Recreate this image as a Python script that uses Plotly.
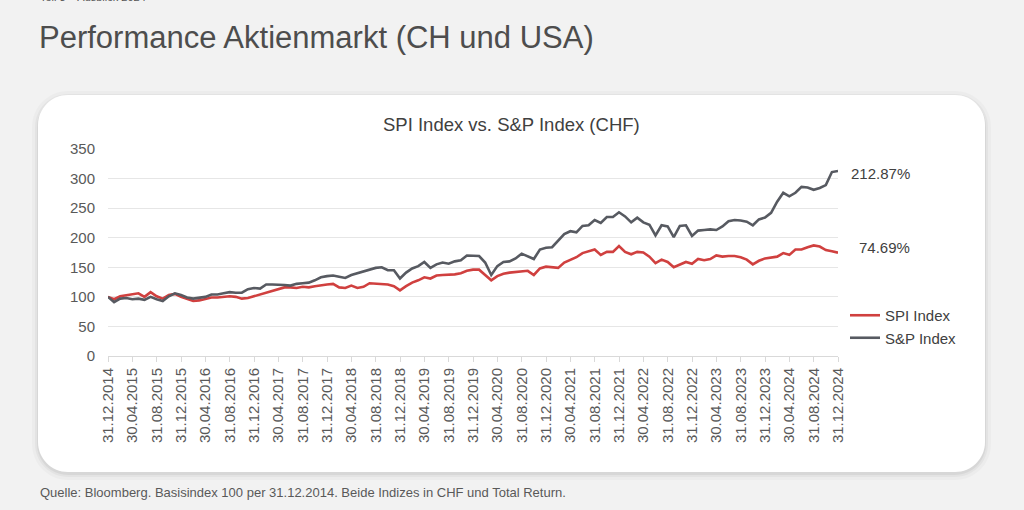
import pandas as pd
import plotly.graph_objects as go

# ---------------- data ----------------
dates = [d.strftime("%d.%m.%Y") for d in pd.date_range("2014-12-31", periods=121, freq="ME")]

spi_index = [
    100, 96, 101, 103, 104.5, 106, 100, 108, 101, 97, 103, 105,
    100, 97, 93, 94, 97, 99, 99, 100, 101, 100, 97, 98,
    101, 103, 106, 110, 113, 116, 116, 115, 117, 116, 118, 120,
    121, 122, 116, 115, 119, 115, 117, 123, 122, 122, 121, 118,
    111, 118, 124, 128, 133, 131, 136, 137, 137, 138, 140, 144,
    146, 146, 137, 128, 135, 139, 141, 142, 144, 144, 137, 148,
    151, 150, 149, 158, 162, 167, 174, 177, 180, 171, 176, 176,
    186, 176, 172, 176, 175, 168, 157, 163, 159, 150, 155, 159,
    156, 164, 162, 164, 170, 168, 169, 169, 167, 163, 155, 161,
    165, 167, 168, 174, 171, 180, 180, 184, 187, 185, 179, 177,
    174.69,
]

sp_index = [
    100, 91, 97, 98, 96, 97, 95, 100, 96, 93, 101, 106,
    103, 99, 97, 98, 100, 104, 104, 106, 108, 107, 107, 113,
    115, 114, 121, 121, 121, 120, 119, 122, 123, 124, 128, 133,
    135, 136, 134, 132, 137, 140, 144, 147, 149, 150, 145, 145,
    131, 141, 148, 152, 159, 149, 155, 158, 156, 160, 162, 170,
    170, 169, 158, 137, 152, 159, 160, 165, 173, 168, 164, 180,
    183, 184, 195, 206, 211, 209, 220, 221, 230, 225, 235, 235,
    243, 236, 226, 234, 226, 222, 204, 221, 219, 201, 220, 221,
    203, 212, 213, 214, 213, 219, 228, 230, 229, 227, 221, 231,
    234, 242, 261, 276, 270, 276, 286, 285, 281, 284, 289, 311,
    312.87,
]

series_names = ["SPI Index", "S&P Index"]
series_colors = ["#D0403F", "#575A61"]
y_ticks = [0, 50, 100, 150, 200, 250, 300, 350]
x_tick_labels = dates[::4]

# ---------------- layout geometry (pixels) ----------------
W, H = 1024, 510
PL, PR, PT, PB = 108, 838, 149, 356  # plot area edges


def px(x, y):
    return (x - PL) / (PR - PL), (PB - y) / (PB - PT)


def rounded_rect(x0, y0, x1, y1, r):
    k = 0.5523 * r

    def P(x, y):
        a, b = px(x, y)
        return f"{a:.5f},{b:.5f}"
    s = f"M {P(x0 + r, y0)} L {P(x1 - r, y0)} "
    s += f"C {P(x1 - r + k, y0)} {P(x1, y0 + r - k)} {P(x1, y0 + r)} "
    s += f"L {P(x1, y1 - r)} "
    s += f"C {P(x1, y1 - r + k)} {P(x1 - r + k, y1)} {P(x1 - r, y1)} "
    s += f"L {P(x0 + r, y1)} "
    s += f"C {P(x0 + r - k, y1)} {P(x0, y1 - r + k)} {P(x0, y1 - r)} "
    s += f"L {P(x0, y0 + r)} "
    s += f"C {P(x0, y0 + r - k)} {P(x0 + r - k, y0)} {P(x0 + r, y0)} Z"
    return s


FONT = "Liberation Sans, Arial, sans-serif"

fig = go.Figure()
for name, vals, col in zip(series_names, [spi_index, sp_index], series_colors):
    fig.add_trace(go.Scatter(
        x=dates, y=vals, mode="lines", name=name,
        line=dict(color=col, width=2.6),
        hoverinfo="x+y+name",
    ))

shapes = []
# soft shadow + white card
for grow, op in [(6, 0.025), (3, 0.035), (1, 0.05)]:
    shapes.append(dict(type="path", xref="paper", yref="paper", layer="below",
                       path=rounded_rect(38 - grow, 95 - grow + 2, 985 + grow, 472 + grow + 2, 30 + grow),
                       fillcolor=f"rgba(0,0,0,{op})", line=dict(width=0)))
shapes.append(dict(type="path", xref="paper", yref="paper", layer="below",
                   path=rounded_rect(38, 95, 985, 472, 30),
                   fillcolor="#FFFFFF", line=dict(width=0)))

annotations = []
# header line at the very top (cut off in the reference)
hx, hy = px(38, 5)
annotations.append(dict(text="Teil 3 – Ausblick 2024", xref="paper", yref="paper", x=hx, y=hy,
                        xanchor="left", yanchor="bottom", showarrow=False,
                        font=dict(family=FONT, size=11, color="#555555")))
# page title
tx, ty = px(37, 37)
annotations.append(dict(text="Performance Aktienmarkt (CH und USA)", xref="paper", yref="paper",
                        x=tx, y=ty, xanchor="left", yanchor="middle", showarrow=False,
                        font=dict(family=FONT, size=31, color="#4D4D4D")))
# chart title
cx, cy = px(512, 125)
annotations.append(dict(text="SPI Index vs. S&P Index (CHF)", xref="paper", yref="paper",
                        x=cx, y=cy, xanchor="center", yanchor="middle", showarrow=False,
                        font=dict(family=FONT, size=18.5, color="#404040")))
# footer
fx, fy = px(38, 492)
annotations.append(dict(text="Quelle: Bloomberg. Basisindex 100 per 31.12.2014. Beide Indizes in CHF und Total Return.",
                        xref="paper", yref="paper", x=fx, y=fy, xanchor="left", yanchor="middle",
                        showarrow=False, font=dict(family=FONT, size=13, color="#595959")))
# end labels (performance in %)
lx, _ = px(912, 0)
for vals, shift in [(sp_index, -3), (spi_index, 5)]:
    perf = (vals[-1] / 100 - 1) * 100
    annotations.append(dict(text=f"{perf:.2f}%", xref="paper", yref="y", x=lx, y=vals[-1],
                            xanchor="right", yanchor="middle", yshift=shift, showarrow=False,
                            font=dict(family=FONT, size=15, color="#404040")))

lgx, lgy = px(845, 299)

fig.update_layout(
    width=W, height=H,
    margin=dict(l=PL, r=W - PR, t=PT, b=H - PB, pad=0),
    paper_bgcolor="#F2F2F2",
    plot_bgcolor="rgba(0,0,0,0)",
    font=dict(family=FONT, size=15, color="#595959"),
    showlegend=True,
    legend=dict(x=lgx, y=lgy, xanchor="left", yanchor="top",
                bgcolor="rgba(0,0,0,0)", borderwidth=0,
                font=dict(family=FONT, size=15, color="#404040"),
                itemwidth=30, tracegroupgap=0),
    shapes=shapes,
    annotations=annotations,
    xaxis=dict(
        type="category", range=[0, len(dates) - 1],
        tickmode="array", tickvals=x_tick_labels, ticktext=x_tick_labels,
        tickangle=-90, tickfont=dict(family=FONT, size=15, color="#595959"),
        ticks="outside", ticklen=5, tickcolor="#D9D9D9",
        showgrid=False, showline=True, linecolor="#D9D9D9", linewidth=1,
        zeroline=False,
    ),
    yaxis=dict(
        range=[0, 350], tickmode="array", tickvals=y_ticks,
        tickfont=dict(family=FONT, size=15, color="#595959"),
        showgrid=True, gridcolor="#E6E6E6", gridwidth=1,
        showline=False, zeroline=False, ticks="", ticklabelstandoff=12,
    ),
)

fig.write_html(
    "out.html",
    config={"displayModeBar": False},
    post_script="document.body.style.margin='0';document.body.style.background='#F2F2F2';"
                "document.body.style.overflow='hidden';",
)
